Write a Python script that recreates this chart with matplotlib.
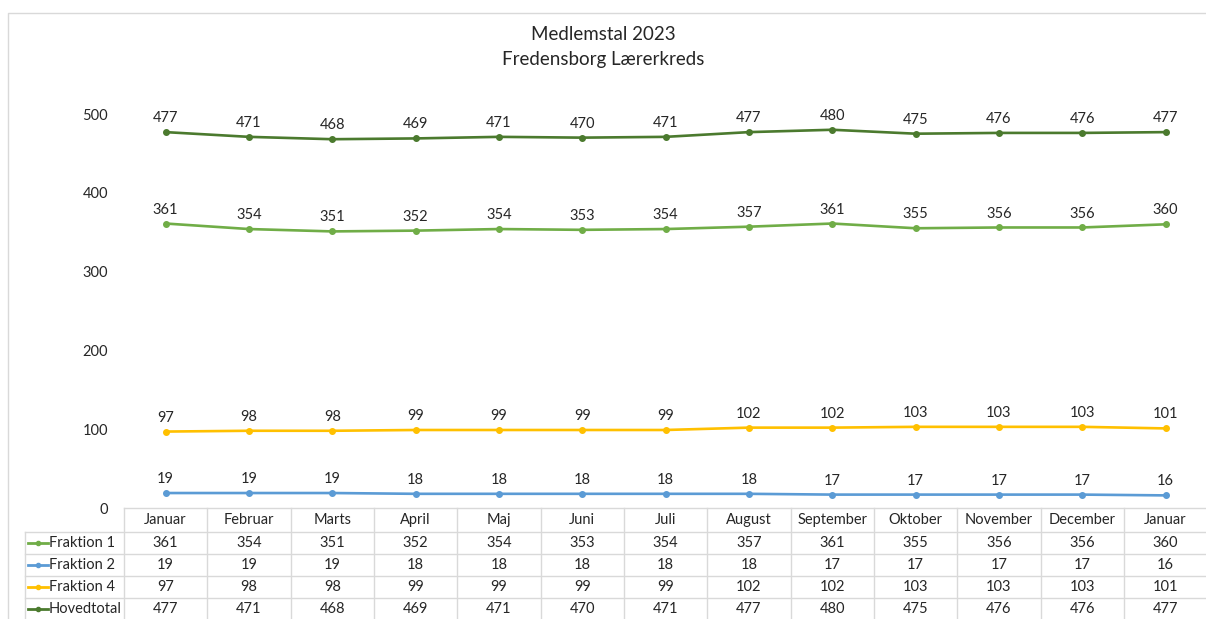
# -*- coding: utf-8 -*-
"""
Medlemstal 2023 - Fredensborg Lærerkreds
Excel-style line chart with a data table underneath
"""

import matplotlib
matplotlib.use('Agg')
import matplotlib.pyplot as plt
from matplotlib.lines import Line2D

plt.rcParams['font.family'] = ['Lato', 'DejaVu Sans']

# Data
months = ['Januar', 'Februar', 'Marts', 'April', 'Maj', 'Juni', 'Juli',
          'August', 'September', 'Oktober', 'November', 'December', 'Januar']
fraktion1 = [361, 354, 351, 352, 354, 353, 354, 357, 361, 355, 356, 356, 360]
fraktion2 = [19, 19, 19, 18, 18, 18, 18, 18, 17, 17, 17, 17, 16]
fraktion4 = [97, 98, 98, 99, 99, 99, 99, 102, 102, 103, 103, 103, 101]
hovedtotal = [477, 471, 468, 469, 471, 470, 471, 477, 480, 475, 476, 476, 477]

series_names = ['Fraktion 1', 'Fraktion 2', 'Fraktion 4', 'Hovedtotal']
series_values = [fraktion1, fraktion2, fraktion4, hovedtotal]
series_colors = ['#70AD47', '#5B9BD5', '#FFC000', '#4B7A2E']
yticks = [0, 100, 200, 300, 400, 500]

W, H = 1206, 619
fig = plt.figure(figsize=(W / 100, H / 100), dpi=100)

# pixel layout helpers
col_w = 83.33
x0 = 124          # left edge of first table column
y_zero = 508      # pixel row of value 0
y_top = 114       # pixel row of value 500

def fx(px):
    return px / W

def fy(py):
    return 1 - py / H

# overlay axes in pixel coordinates for frame and table
ov = fig.add_axes([0, 0, 1, 1])
ov.set_xlim(0, W)
ov.set_ylim(H, 0)
ov.axis('off')

# chart frame
ov.plot([8, 8, W + 5], [H + 5, 13, 13], color='#d9d9d9', lw=1)

# title
fig.text(0.5, fy(35), 'Medlemstal 2023', ha='center', va='center',
         fontsize=13.5, color='#262626')
fig.text(0.5, fy(60), 'Fredensborg Lærerkreds', ha='center', va='center',
         fontsize=13.5, color='#262626')

# main plot axes
ax = fig.add_axes([fx(x0), fy(y_zero), fx(col_w * 13), (y_zero - y_top) / H])
ax.set_xlim(-0.5, len(months) - 0.5)
ax.set_ylim(0, 500)
ax.patch.set_alpha(0)
for s in ax.spines.values():
    s.set_visible(False)
ax.set_xticks([])
ax.set_yticks(yticks)
ax.tick_params(axis='y', length=0, pad=11.5, labelsize=10.5, labelcolor='#262626')

x = list(range(len(months)))
for name, vals, c in zip(series_names, series_values, series_colors):
    ax.plot(x, vals, color=c, lw=1.9, marker='o', markersize=4,
            clip_on=False, solid_capstyle='round')
    for xi, v in zip(x, vals):
        ax.annotate(str(v), (xi, v), xytext=(0, 5), textcoords='offset points',
                    ha='center', va='bottom', fontsize=10.5, color='#262626',
                    annotation_clip=False)

# data table
line_c = '#d9d9d9'
row_y = [532, 554, 576, 598, 620]
x_right = x0 + col_w * 13
ov.plot([x0, x_right], [y_zero, y_zero], color=line_c, lw=1)
for yy in row_y:
    ov.plot([25, x_right], [yy, yy], color=line_c, lw=1)
ov.plot([25, 25], [row_y[0], H + 5], color=line_c, lw=1)
for k in range(14):
    xx = x0 + col_w * k
    ov.plot([xx, xx], [y_zero, H + 5], color=line_c, lw=1)

for k, m in enumerate(months):
    ov.text(x0 + col_w * (k + 0.5), 520, m, ha='center', va='center',
            fontsize=10.5, color='#262626')

for r, (name, vals, c) in enumerate(zip(series_names, series_values, series_colors)):
    yc = row_y[r] + 11
    ov.add_line(Line2D([28, 48], [yc, yc], color=c, lw=2))
    ov.plot([38], [yc], marker='o', markersize=3, color=c)
    ov.text(49, yc, name, ha='left', va='center', fontsize=10.5, color='#262626')
    for k, v in enumerate(vals):
        ov.text(x0 + col_w * (k + 0.5), yc, str(v), ha='center', va='center',
                fontsize=10.5, color='#262626')

fig.savefig('out.png', dpi=100)
